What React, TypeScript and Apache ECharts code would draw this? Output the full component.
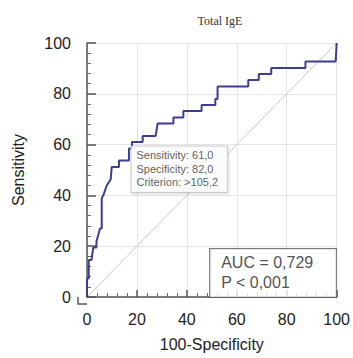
import React, { useEffect, useRef } from "react";
import * as echarts from "echarts";

// ROC curve vertices (100-Specificity, Sensitivity)
const fpr = [0, 0, 0.7, 0.7, 1.8, 2.5, 3.8, 3.8, 4.5, 5.2, 5.9, 5.9, 6.6, 7.9, 9.5, 9.9, 12.8, 12.8, 16.8, 16.8, 18, 18, 22.3, 22.3, 27.5, 28.3, 34.6, 34.6, 38.6, 38.6, 45.9, 45.9, 51.4, 51.4, 52.3, 52.3, 64.6, 64.6, 68.8, 68.8, 73.8, 73.8, 87.5, 87.5, 99.6, 100];
const tpr = [0, 7.3, 7.3, 14.6, 14.6, 19.5, 19.5, 22, 24.4, 27, 27, 39, 40.2, 43.9, 46.3, 51.2, 51.2, 53.7, 53.7, 58.5, 58.5, 61, 61, 63.4, 63.4, 68.3, 68.3, 70.7, 70.7, 73.2, 73.2, 75.6, 75.6, 78, 78, 82.9, 82.9, 85.4, 85.4, 87.8, 87.8, 90.2, 90.2, 92.7, 92.7, 100];
const diagonalX = [0, 100];
const diagonalY = [0, 100];
const criterion = { fpr: 18, sens: 61.0, spec: 82.0, crit: ">105,2" };
const aucText = ["AUC = 0,729", "P < 0,001"];
const title = "Total IgE";
const xName = "100-Specificity";
const yName = "Sensitivity";

const FONT = "Liberation Sans, Arial, sans-serif";

export default function App() {
  const ref = useRef<HTMLDivElement>(null);
  useEffect(() => {
    if (!ref.current) return;
    const chart = echarts.init(ref.current, null, { renderer: "svg" });
    const axisCommon = {
      type: "value",
      min: 0,
      max: 100,
      interval: 20,
      nameLocation: "middle",
      nameTextStyle: { fontFamily: FONT, fontSize: 16, color: "#222" },
      axisLine: { show: true, lineStyle: { color: "#555", width: 1.5 } },
      axisLabel: { fontFamily: FONT, fontSize: 16, color: "#222" },
      minorTick: { show: true, splitNumber: 5, length: 4, lineStyle: { color: "#666", width: 1 } },
      splitLine: { show: true, lineStyle: { color: "#e4e4e4", width: 1 } },
    };
    chart.setOption({
      animation: false,
      title: {
        text: title,
        left: 215,
        top: 10,
        textAlign: "center",
        textStyle: { fontFamily: "Liberation Serif, Times New Roman, serif", fontSize: 12, fontWeight: "normal", color: "#333" },
      },
      grid: { left: 87, right: 13, top: 43, bottom: 61, containLabel: false },
      xAxis: {
        ...axisCommon,
        offset: 7,
        name: xName,
        nameGap: 32,
        axisLabel: { ...axisCommon.axisLabel, margin: 7 },
        axisTick: { show: true, inside: true, length: 7, lineStyle: { color: "#555", width: 1.5 } },
      },
      yAxis: {
        ...axisCommon,
        offset: 9,
        name: yName,
        nameGap: 52,
        axisLabel: { ...axisCommon.axisLabel, margin: 7 },
        axisTick: { show: true, inside: true, length: 9, lineStyle: { color: "#555", width: 1.5 } },
      },
      series: [
        {
          type: "line",
          data: diagonalX.map((x, i) => [x, diagonalY[i]]),
          symbol: "none",
          lineStyle: { color: "#d6c2c6", width: 1 },
          silent: true,
          z: 1,
        },
        {
          type: "line",
          data: fpr.map((x, i) => [x, tpr[i]]),
          symbol: "none",
          lineStyle: { color: "#3d3d96", width: 2 },
          z: 3,
        },
        {
          type: "scatter",
          data: [[criterion.fpr, criterion.sens]],
          symbolSize: 1,
          itemStyle: { color: "transparent" },
          z: 5,
          label: {
            show: true,
            position: [0, 5],
            formatter: () =>
              [
                `Sensitivity: ${criterion.sens.toFixed(1).replace(".", ",")}`,
                `Specificity: ${criterion.spec.toFixed(1).replace(".", ",")}`,
                `Criterion: ${criterion.crit}`,
              ].join("\n"),
            fontFamily: FONT,
            fontSize: 11,
            lineHeight: 13.5,
            color: "#333",
            backgroundColor: "#fff",
            borderColor: "#c4c4c4",
            borderWidth: 1,
            padding: [2, 9, 3, 5],
            shadowColor: "rgba(0,0,0,0.18)",
            shadowBlur: 2,
            shadowOffsetX: 1,
            shadowOffsetY: 1,
          },
        },
        {
          type: "scatter",
          data: [[100, 0]],
          symbolSize: 1,
          itemStyle: { color: "transparent" },
          z: 6,
          label: {
            show: true,
            position: [-126, -47.5],
            formatter: () => aucText.join("\n"),
            fontFamily: FONT,
            fontSize: 16,
            lineHeight: 20,
            color: "#222",
            width: 113,
            height: 40,
            backgroundColor: "#fff",
            borderColor: "#555",
            borderWidth: 1,
            padding: [3, 2, 5, 11],
          },
        },
      ],
    });
    const p0 = chart.convertToPixel({ gridIndex: 0 }, [0, 0]) as number[];
    chart.setOption({
      graphic: [
        {
          type: "polyline",
          shape: { points: [[p0[0] - 9, p0[1]], [p0[0] - 9, p0[1] + 7], [p0[0], p0[1] + 7]] },
          style: { stroke: "#555", lineWidth: 1.5, fill: "none" },
          silent: true,
        },
      ],
    });
    return () => chart.dispose();
  }, []);
  return <div ref={ref} style={{ width: 353, height: 358, position: "absolute", left: 0, top: 0 }} />;
}
